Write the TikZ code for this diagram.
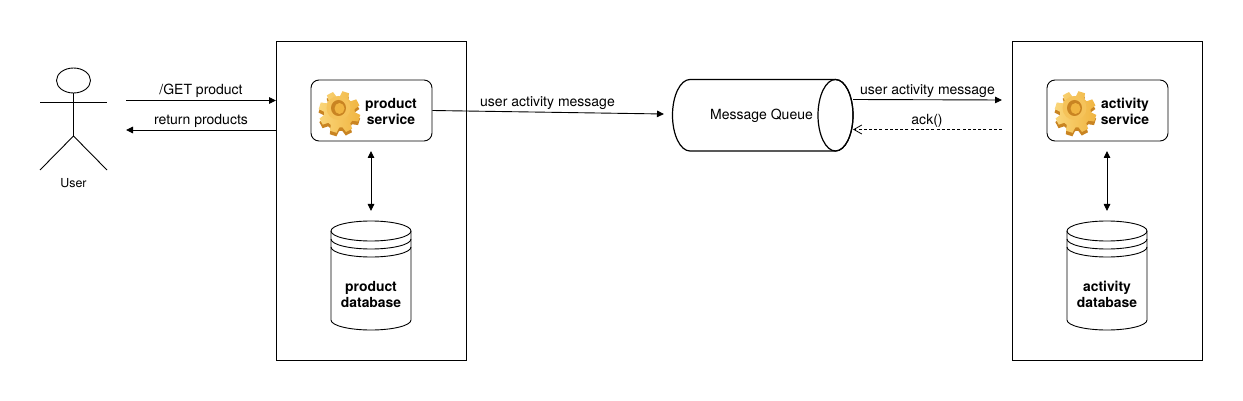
\documentclass[tikz,border=0pt]{standalone}
\usepackage{fontspec}
\setmainfont{TeX Gyre Heros}
\usetikzlibrary{arrows.meta,calc}
\definecolor{gearlight}{HTML}{FAD67A}
\definecolor{gearmid}{HTML}{F0B440}
\definecolor{geardark}{HTML}{C98422}
\tikzset{
  ln/.style={draw=black,line width=0.9pt},
  qln/.style={draw=black,line width=1.2pt},
  frame/.style={ln,fill=white,minimum width=190.5pt,minimum height=319pt,inner sep=0pt},
  svc/.style={ln,fill=white,rounded corners=8pt,minimum width=121pt,minimum height=61pt,inner sep=0pt},
  lbl/.style={font=\fontsize{14}{16}\selectfont,inner sep=0pt},
  blbl/.style={font=\fontsize{13.9}{16}\selectfont\bfseries,align=center,inner sep=0pt},
  arr/.style={ln,-{Triangle[length=7pt,width=6.5pt]}},
  twoarr/.style={ln,{Triangle[length=7pt,width=6.5pt]}-{Triangle[length=7pt,width=6.5pt]}},
  ackarr/.style={draw=black,line width=0.8pt,dash pattern=on 3pt off 2.2pt,-{Straight Barb[length=8pt,width=9pt]}},
}
\newcommand{\gearpath}[1]{%
  (0:#1*0.72) \foreach \a in {0,45,...,315}{
    -- ({\a+6}:#1*0.74) -- ({\a+13}:#1) -- ({\a+32}:#1) -- ({\a+39}:#1*0.74)
  } -- cycle}
\newcommand{\geardraw}[2]{%
  \begin{scope}[shift={(#1,#2)},rotate=5]
    \fill[geardark] [shift={(-0.5,3.5)}] \gearpath{21};
    \path[left color=gearlight,right color=gearmid] \gearpath{21};
  \end{scope}
  \fill[gearlight!45!gearmid] (#1-1,#2-4) circle [x radius=12pt,y radius=12pt];
  \fill[geardark] (#1-1,#2-4) circle [x radius=7.5pt,y radius=8pt];
  \fill[gearmid] (#1,#2-3.5) circle [x radius=5pt,y radius=5.5pt];
}
\newcommand{\dbdraw}[1]{%
  \draw[ln,fill=white] (#1-40,231) -- (#1-40,320)
    arc[start angle=180,end angle=360,x radius=40pt,y radius=10pt]
    -- (#1+40,231) arc[start angle=0,end angle=180,x radius=40pt,y radius=10pt] -- cycle;
  \draw[ln] (#1-40,231) arc[start angle=180,end angle=360,x radius=40pt,y radius=10pt];
  \draw[ln] (#1-40,239) arc[start angle=180,end angle=360,x radius=40pt,y radius=10pt];
  \draw[ln] (#1-40,247) arc[start angle=180,end angle=360,x radius=40pt,y radius=10pt];
}
\begin{document}
\begin{tikzpicture}[x=1pt,y=-1pt]
\useasboundingbox (0,0) rectangle (1243,401);
\fill[white] (0,0) rectangle (1243,401);

% Actor
\coordinate (usrL) at (126,100.5);
\coordinate (usrR) at (126,130);
\draw[ln] (73.5,80.5) circle [x radius=17pt,y radius=12.5pt];
\draw[ln] (40,102.7) -- (107,102.7);
\draw[ln] (73.5,93) -- (73.5,136);
\draw[ln] (40,170) -- (73.5,136) -- (107,170);
\node[lbl,font=\fontsize{12.4}{14}\selectfont] (usr) at (73.5,183) {User};

% Frames
\node[frame] (pframe) at (371.25,200.5) {};
\node[frame] (aframe) at (1107.25,200.5) {};

% Service boxes
\node[svc] (psvc) at (371.5,110.5) {};
\node[svc] (asvc) at (1107.5,110.5) {};
\geardraw{339.5}{112}
\geardraw{1075.5}{112}
\node[blbl] (ptext) at (391,111) {product\\service};
\node[blbl] (atext) at (1125,111) {activity\\service};

% Databases
\dbdraw{371}
\dbdraw{1107}
\node[blbl] (pdb) at (371,294) {product\\database};
\node[blbl] (adb) at (1107,294) {activity\\database};
\coordinate (pdbtop) at (371,211);
\coordinate (adbtop) at (1107,211);
\coordinate (psvcb) at (371,151);
\coordinate (asvcb) at (1107,151);
\draw[twoarr] (psvcb) -- (pdbtop);
\draw[twoarr] (asvcb) -- (adbtop);

% Queue
\draw[qln,fill=white] (835.5,79.5) -- (690,79.5)
  arc[start angle=90,end angle=270,x radius=17.5pt,y radius=35.75pt]
  -- (835.5,151) arc[start angle=270,end angle=450,x radius=17.5pt,y radius=35.75pt] -- cycle;
\draw[qln] (835.5,115.25) circle [x radius=17.5pt,y radius=35.75pt];
\node[lbl] (mq) at (761.5,116) {Message Queue};
\coordinate (mqin) at (664,114);
\coordinate (mqout) at (853,99.5);
\coordinate (mqack) at (853,129.5);
\coordinate (aIn) at (1002,100);
\coordinate (aAck) at (1002,129.5);
\coordinate (pfL) at (276,100.5);
\coordinate (pfL2) at (276,130);

% Connectors
\draw[arr] (usrL) -- (pfL);
\draw[arr] (pfL2) -- (usrR);
\draw[arr] (psvc.east) -- (mqin);
\draw[arr] (mqout) -- (aIn);
\draw[ackarr] (aAck) -- (mqack);

% Labels
\node[lbl] (l1) at (201,91) {/GET product};
\node[lbl] (l2) at (201,121) {return products};
\node[lbl] (l3) at (547.5,102.7) {user activity message};
\node[lbl] (l4) at (927.5,91) {user activity message};
\node[lbl] (l5) at (927,120.5) {ack()};
\end{tikzpicture}
\end{document}
